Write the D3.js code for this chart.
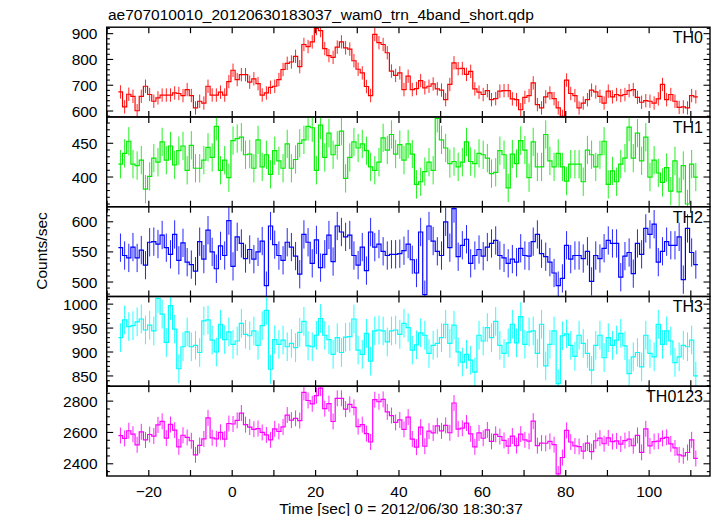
<!DOCTYPE html>
<html><head><meta charset="utf-8">
<script src="https://cdn.jsdelivr.net/npm/d3@7"></script>
<style>
body{margin:0;background:#fff}
svg text{font-family:"Liberation Sans",Arial,Helvetica,sans-serif;fill:#000}
</style>
</head><body>
<svg id="chart" width="717" height="516"></svg>
<script>
// ---------------- data ----------------
const titleText = "ae707010010_20120630183037_wam0_trn_4band_short.qdp";
const xLabelText = "Time [sec] 0 = 2012/06/30 18:30:37";
const yLabelText = "Counts/sec";
const binStart = -27.3;   // left edge of the first 1-s bin
const binWidth = 1;

const th0 = [674,616,665,657,601,657,696,664,638,651,662,662,662,670,668,660,683,660,612,638,
631,696,662,662,673,662,714,758,722,741,741,712,725,706,662,670,692,696,722,761,
785,790,812,772,858,850,868,920,912,842,815,808,848,868,845,840,795,762,748,695,
660,897,865,858,826,755,738,748,683,735,683,687,718,690,696,705,686,681,644,703,
787,764,765,742,754,686,673,664,679,644,648,677,679,679,647,644,605,653,660,709,
625,612,655,670,648,612,579,720,668,660,612,631,644,681,674,657,631,677,655,664,
660,664,679,683,653,634,640,638,631,647,703,644,664,638,614,616,612,660,655];

const th1 = [419,435,453,419,417,425,382,401,428,422,452,425,446,418,439,446,410,447,413,413,
425,444,429,475,410,425,399,454,457,459,433,434,413,455,415,433,404,439,424,413,
449,413,426,450,455,475,473,410,477,429,465,433,447,468,398,429,452,443,449,439,
415,410,422,458,440,463,434,448,425,449,434,389,393,408,422,410,487,455,443,420,
423,415,422,452,423,420,435,433,428,405,407,439,433,384,434,420,454,440,399,452,
415,415,463,424,415,435,415,394,419,419,419,393,440,433,415,433,453,389,409,393,
419,428,474,428,465,424,459,400,425,406,392,414,379,424,378,417,360,419,400];

const th2 = [557,544,540,558,540,553,528,566,567,563,578,557,546,579,536,565,533,529,518,567,
538,586,550,522,560,544,602,526,575,564,539,554,538,550,568,494,593,562,544,536,
566,558,543,513,579,566,531,570,524,546,578,534,593,583,575,578,544,528,558,519,
583,558,563,551,544,546,546,547,552,563,537,515,583,479,593,568,551,544,600,557,
622,542,561,571,531,544,554,543,558,564,569,544,540,531,538,533,556,544,543,567,
579,547,542,533,515,494,506,561,538,544,544,539,551,501,544,539,556,569,564,564,
508,543,549,514,564,546,589,579,596,533,551,567,561,561,575,504,589,549,529];

const th3 = [930,967,953,955,963,969,946,956,944,1012,979,920,997,948,865,911,942,911,914,899,
965,967,925,900,958,926,942,916,923,960,937,934,944,914,955,987,864,926,916,925,
911,918,909,941,964,913,911,935,970,935,926,895,930,899,931,932,969,904,895,939,
881,944,946,944,921,944,946,937,960,951,904,915,940,935,897,914,918,930,958,918,
956,900,879,895,883,858,935,923,951,930,964,914,897,919,958,919,974,916,942,944,
897,958,871,916,944,834,934,938,914,891,935,918,897,862,914,935,888,930,914,925,
939,913,855,890,899,869,935,897,890,958,916,944,923,878,890,914,911,925,850];

const th0123 = [2580,2562,2611,2589,2521,2604,2552,2587,2577,2648,2671,2564,2651,2615,2508,2582,2568,2547,2457,2517,
2559,2693,2566,2559,2601,2557,2657,2654,2677,2724,2650,2634,2620,2625,2600,2584,2553,2623,2606,2635,
2711,2679,2690,2676,2856,2804,2783,2835,2883,2752,2784,2670,2818,2818,2749,2779,2760,2637,2650,2592,
2539,2809,2796,2811,2731,2708,2664,2680,2620,2698,2558,2506,2634,2512,2608,2597,2642,2610,2645,2598,
2788,2621,2627,2660,2591,2508,2597,2563,2616,2543,2588,2574,2549,2513,2577,2516,2589,2553,2544,2672,
2516,2532,2531,2543,2522,2335,2440,2613,2539,2514,2510,2481,2532,2477,2547,2564,2528,2565,2542,2546,
2526,2548,2557,2515,2581,2473,2623,2514,2542,2544,2562,2569,2527,2501,2457,2451,2472,2553,2434];

const panelNames  = ["TH0","TH1","TH2","TH3","TH0123"];
const panelSeries = [th0, th1, th2, th3, th0123];
const panelColors = ["#ff0000","#00ee00","#0000ff","#00ffff","#ff00ff"];
const yDomains    = [[577,925],[356,489],[476,625],[828.5,1016],[2322,2895]];
const yMajorStep  = [100,50,50,50,200];
const yMinorStep  = [20,10,10,10,50];
const errHalf     = [26,21,23.5,30,51];
const xDomain     = [-30.1,114.6];
const xTickStep   = 10;
const xLabelStep  = 20;

// ---------------- layout ----------------
const plotL = 106.7, plotR = 710, plotT = 27.2, panelH = 89.76;
const svg = d3.select("#chart");
const x = d3.scaleLinear().domain(xDomain).range([plotL, plotR]);
const fmt = v => (v < 0 ? "\u2212" + Math.abs(v) : String(v));

svg.append("text").attr("x", 108).attr("y", 19.5).style("font-size","15.5px").text(titleText);

panelSeries.forEach((vals, k) => {
  const y0 = plotT + k*panelH, y1 = y0 + panelH;
  const y = d3.scaleLinear().domain(yDomains[k]).range([y1, y0]);
  const g = svg.append("g");
  const clipId = "clip" + k;
  svg.append("clipPath").attr("id", clipId).append("rect")
     .attr("x", plotL).attr("y", y0).attr("width", plotR-plotL).attr("height", panelH);

  const data = vals.map((v,i) => ({t0: binStart + i*binWidth, t1: binStart + (i+1)*binWidth, v}));
  const pts = data.map(d => [d.t0, d.v]);
  pts.push([data[data.length-1].t1, data[data.length-1].v]);
  const line = d3.line().x(d => x(d[0])).y(d => y(d[1])).curve(d3.curveStepAfter);

  const dg = g.append("g").attr("clip-path", `url(#${clipId})`);
  dg.selectAll("line.err").data(data).enter().append("line")
    .attr("x1", d => x((d.t0+d.t1)/2)).attr("x2", d => x((d.t0+d.t1)/2))
    .attr("y1", d => y(d.v - errHalf[k])).attr("y2", d => y(d.v + errHalf[k]))
    .attr("stroke", panelColors[k]).attr("stroke-width", 1).attr("stroke-opacity", 0.85);
  dg.append("path").attr("d", line(pts)).attr("fill","none")
    .attr("stroke", panelColors[k]).attr("stroke-width", 1.2);

  g.append("rect").attr("x", plotL).attr("y", y0).attr("width", plotR-plotL).attr("height", panelH)
    .attr("fill","none").attr("stroke","#000").attr("stroke-width",1.4);

  const xt = d3.range(Math.ceil(xDomain[0]/xTickStep)*xTickStep, xDomain[1], xTickStep);
  xt.forEach(t => {
    g.append("line").attr("x1", x(t)).attr("x2", x(t)).attr("y1", y1).attr("y2", y1-6)
      .attr("stroke","#000").attr("stroke-width",1.2);
    g.append("line").attr("x1", x(t)).attr("x2", x(t)).attr("y1", y0).attr("y2", y0+6)
      .attr("stroke","#000").attr("stroke-width",1.2);
  });
  const [dm, dM] = yDomains[k];
  const minorT = d3.range(Math.ceil(dm/yMinorStep[k])*yMinorStep[k], dM, yMinorStep[k]);
  minorT.forEach(v => {
    const isMajor = Math.abs(v/yMajorStep[k] - Math.round(v/yMajorStep[k])) < 1e-6;
    const len = isMajor ? 6.5 : 3.2;
    g.append("line").attr("x1", plotL).attr("x2", plotL+len).attr("y1", y(v)).attr("y2", y(v))
      .attr("stroke","#000").attr("stroke-width",1.1);
    g.append("line").attr("x1", plotR).attr("x2", plotR-len).attr("y1", y(v)).attr("y2", y(v))
      .attr("stroke","#000").attr("stroke-width",1.1);
    if (isMajor) {
      g.append("text").attr("x", 97.5).attr("y", y(v)).attr("dy","0.36em")
        .attr("text-anchor","end").style("font-size","15.5px").text(fmt(v));
    }
  });
  g.append("text").attr("x", 703).attr("y", y0 + 15.8).attr("text-anchor","end")
    .style("font-size","16px").text(panelNames[k]);

  if (k === panelSeries.length - 1) {
    const lt = d3.range(Math.ceil(xDomain[0]/xLabelStep)*xLabelStep, xDomain[1], xLabelStep);
    lt.forEach(t => {
      g.append("text").attr("x", x(t)).attr("y", 497).attr("text-anchor","middle")
        .style("font-size","15.5px").text(fmt(t));
    });
  }
});

svg.append("text").attr("x", 401).attr("y", 513.5).attr("text-anchor","middle")
  .style("font-size","15.5px").text(xLabelText);
svg.append("text").attr("transform","translate(46.5,251) rotate(-90)").attr("text-anchor","middle")
  .style("font-size","15.5px").text(yLabelText);
</script>
</body></html>
